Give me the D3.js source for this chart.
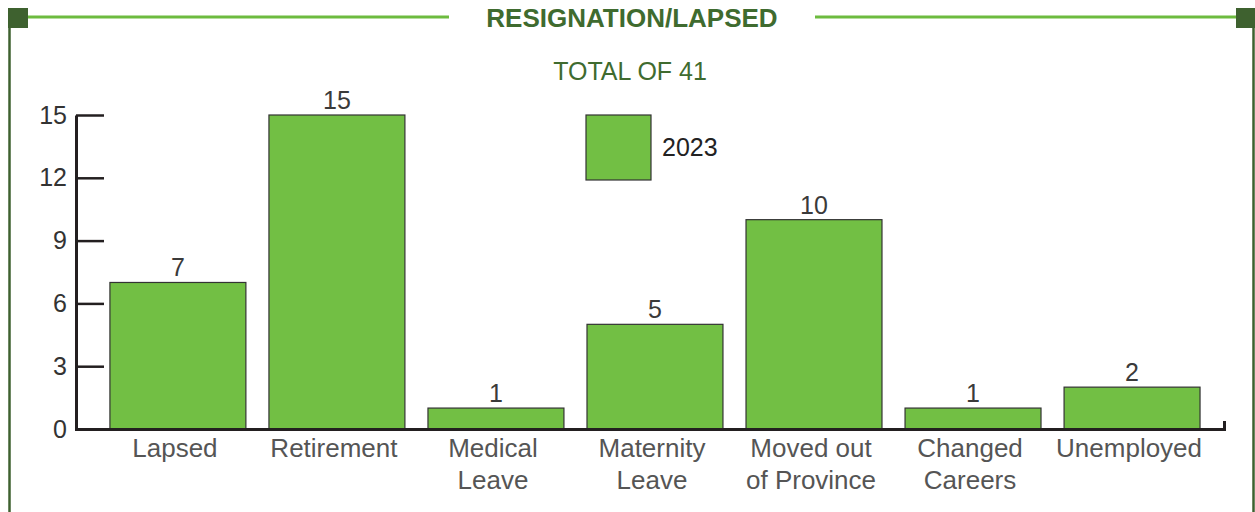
<!DOCTYPE html>
<html>
<head>
<meta charset="utf-8">
<script src="https://cdn.jsdelivr.net/npm/d3@7"></script>
<style>
  html, body { margin: 0; padding: 0; background: #fff; }
  svg { display: block; font-family: "Liberation Sans", Arial, sans-serif; }
</style>
</head>
<body>
<div id="chart"></div>
<script>

// chart data
var categories = ["Lapsed", "Retirement", "Medical\nLeave", "Maternity\nLeave",
                  "Moved out\nof Province", "Changed\nCareers", "Unemployed"];
var values2023 = [7, 15, 1, 5, 10, 1, 2];
var yTicks = [0, 3, 6, 9, 12, 15];
var seriesName = "2023";
var title = "RESIGNATION/LAPSED";
var subtitle = "TOTAL OF 41";

var width = 1255,
    height = 512,
    barGreen = "#72bf44",
    lightGreen = "#6dbb3f",
    darkGreen = "#3e612f",
    ink = "#231f20";

var svg = d3.select("#chart").append("svg")
    .attr("width", width)
    .attr("height", height);

//--------------------------------------------------------------------------
// frame: top rules, corner squares, side lines

var frame = svg.append("g").attr("class", "frame");

frame.append("line")
    .attr("x1", 9.5).attr("x2", 9.5)
    .attr("y1", 20).attr("y2", height)
    .attr("stroke", darkGreen).attr("stroke-width", 2.5);
frame.append("line")
    .attr("x1", 1253.5).attr("x2", 1253.5)
    .attr("y1", 20).attr("y2", height)
    .attr("stroke", darkGreen).attr("stroke-width", 2.5);

frame.append("line")
    .attr("x1", 28).attr("x2", 449)
    .attr("y1", 17).attr("y2", 17)
    .attr("stroke", lightGreen).attr("stroke-width", 3);
frame.append("line")
    .attr("x1", 815).attr("x2", 1236)
    .attr("y1", 17).attr("y2", 17)
    .attr("stroke", lightGreen).attr("stroke-width", 3);

frame.append("rect")
    .attr("x", 8).attr("y", 8).attr("width", 20).attr("height", 20)
    .attr("fill", darkGreen);
frame.append("rect")
    .attr("x", 1236).attr("y", 8).attr("width", 19).attr("height", 20)
    .attr("fill", darkGreen);

svg.append("text")
    .attr("x", 632).attr("y", 27)
    .attr("text-anchor", "middle")
    .attr("font-size", 26).attr("font-weight", "bold")
    .attr("fill", "#3f6b2f")
    .text(title);

svg.append("text")
    .attr("x", 630).attr("y", 80)
    .attr("text-anchor", "middle")
    .attr("font-size", 25)
    .attr("fill", "#3f6b2f")
    .text(subtitle);

//--------------------------------------------------------------------------
// scales and axes

var x = d3.scaleBand()
    .domain(categories)
    .range([76, 1224])
    .paddingInner(0.145)
    .paddingOuter(0.182)
    .align(0.586);

var y = d3.scaleLinear()
    .domain([0, 15])
    .range([429, 115]);

var yAxis = svg.append("g")
    .attr("transform", "translate(76,0)")
    .call(d3.axisLeft(y).tickValues(yTicks).tickSizeInner(-28).tickSizeOuter(0).tickPadding(9));

yAxis.select(".domain").attr("stroke", ink).attr("stroke-width", 3);
yAxis.selectAll(".tick line").attr("stroke", ink).attr("stroke-width", 2.5);
yAxis.selectAll(".tick text")
    .attr("font-size", 25)
    .attr("font-family", "Liberation Sans, Arial, sans-serif")
    .attr("fill", "#333");

//--------------------------------------------------------------------------
// bars

svg.append("g").selectAll("rect")
    .data(values2023)
    .join("rect")
    .attr("x", function(d, i) { return x(categories[i]); })
    .attr("y", function(d) { return y(d); })
    .attr("width", x.bandwidth())
    .attr("height", function(d) { return y(0) - y(d); })
    .attr("fill", barGreen)
    .attr("stroke", "#333")
    .attr("stroke-width", 1.2);

svg.append("g").selectAll("text")
    .data(values2023)
    .join("text")
    .attr("x", function(d, i) { return x(categories[i]) + x.bandwidth() / 2; })
    .attr("y", function(d) { return y(d) - 6; })
    .attr("text-anchor", "middle")
    .attr("font-size", 25)
    .attr("fill", "#3a3a3a")
    .text(function(d) { return d; });

// x axis drawn after bars so the baseline sits on top
var xAxis = svg.append("g")
    .attr("transform", "translate(0,429)")
    .call(d3.axisBottom(x).tickSizeInner(0).tickSizeOuter(-8).tickPadding(0));

xAxis.select(".domain").attr("stroke", ink).attr("stroke-width", 3);
xAxis.selectAll(".tick line").remove();
xAxis.selectAll(".tick text").each(function(d) {
  var t = d3.select(this).text(null)
      .attr("font-size", 26)
      .attr("font-family", "Liberation Sans, Arial, sans-serif")
      .attr("fill", "#555")
      .attr("y", 0)
      .attr("dy", null);
  d.split("\n").forEach(function(line, k) {
    t.append("tspan")
        .attr("x", -3)
        .attr("y", 28 + k * 31.5)
        .text(line);
  });
});

//--------------------------------------------------------------------------
// legend

var legend = svg.append("g").attr("transform", "translate(586,115)");
legend.append("rect")
    .attr("width", 65).attr("height", 65)
    .attr("fill", barGreen)
    .attr("stroke", "#333").attr("stroke-width", 1.2);
legend.append("text")
    .attr("x", 76).attr("y", 41)
    .attr("font-size", 25)
    .attr("fill", "#222")
    .text(seriesName);

</script>
</body>
</html>
